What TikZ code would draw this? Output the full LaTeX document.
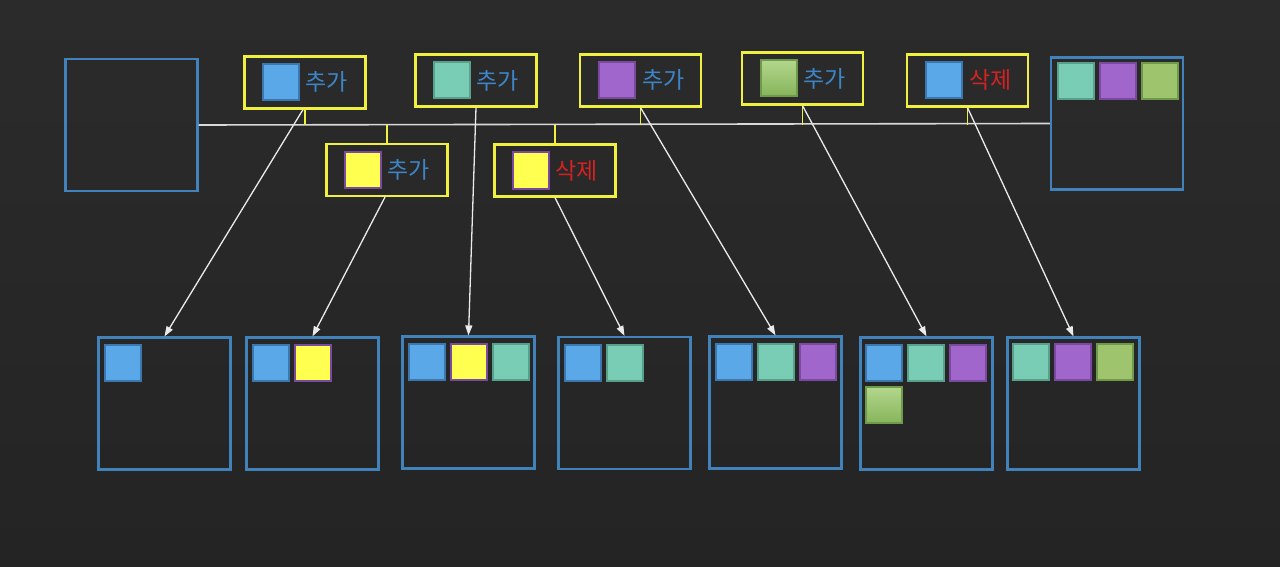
\documentclass[tikz,border=0pt]{standalone}
\usepackage{fontspec}
\newfontfamily\kr{Noto Sans CJK KR}
\usetikzlibrary{positioning,arrows.meta}

\definecolor{bgtop}{HTML}{2B2B2B}
\definecolor{bgbot}{HTML}{242424}
\definecolor{frame}{HTML}{4282BA}
\definecolor{tagline}{HTML}{F0F040}
\definecolor{blueA}{HTML}{5AA8E8}
\definecolor{blueB}{HTML}{3C78B0}
\definecolor{tealA}{HTML}{78CDB4}
\definecolor{tealB}{HTML}{58A08C}
\definecolor{purpA}{HTML}{A066CC}
\definecolor{purpB}{HTML}{7A4AA0}
\definecolor{grnA}{HTML}{9EC46E}
\definecolor{grnT}{HTML}{B2D68C}
\definecolor{grnB}{HTML}{86B45A}
\definecolor{grnE}{HTML}{6E9A4A}
\definecolor{yelA}{HTML}{FFFF50}
\definecolor{addtxt}{HTML}{3D85C6}
\definecolor{deltxt}{HTML}{D42222}

\tikzset{
  sq/.style={minimum size=36pt,inner sep=0pt,line width=2pt},
  sqblue/.style={sq,draw=blueB,fill=blueA},
  sqteal/.style={sq,draw=tealB,fill=tealA},
  sqpurp/.style={sq,draw=purpB,fill=purpA},
  sqgrn/.style={sq,draw=grnE,top color=grnT,bottom color=grnB},
  sqgrnflat/.style={sq,draw=grnE,fill=grnA},
  sqyel/.style={sq,draw=purpB,fill=yelA},
  state/.style={draw=frame,line width=2.2pt,minimum size=132pt,inner sep=0pt},
  tag/.style={draw=tagline,line width=2.2pt,minimum width=121pt,minimum height=52pt,inner sep=0pt},
  addword/.style={font=\kr\fontsize{23}{26}\selectfont,text=addtxt,inner sep=0pt},
  delword/.style={font=\kr\fontsize{23}{26}\selectfont,text=deltxt,inner sep=0pt},
  tick/.style={draw=tagline,line width=1.6pt},
  flow/.style={draw=white!92!black,line width=1.3pt,-{Triangle[length=10pt,width=7pt]}}
}

\begin{document}
\begin{tikzpicture}[x=1pt,y=-1pt]
% background
\useasboundingbox (0,0) rectangle (1280,567);
\fill[top color=bgtop,bottom color=bgbot] (0,0) rectangle (1280,567);

% start and final states
\node[state] (start) at (131.5,125) {};
\node[state] (final) at (1117,123.5) {};
\node[sqteal,below right=6pt and 7pt of final.north west] (f1) {};
\node[sqpurp,right=4pt of f1] (f2) {};
\node[sqgrnflat,right=4pt of f2] (f3) {};

% time line
\draw[white!85!black,line width=1.6pt] (start.east) -- (final.west);
\coordinate (ln) at (start.east);

% operations, top row
\node[tag] (op1) at (305,82.5) {};
\node[sqblue] (op1s) at (280.5,82) {};
\node[addword,right=6pt of op1s] {추가};

\node[tag] (op2) at (476,80.5) {};
\node[sqteal] (op2s) at (451.5,80.5) {};
\node[addword,right=6pt of op2s] {추가};

\node[tag] (op3) at (640.5,80.5) {};
\node[sqpurp] (op3s) at (617,80) {};
\node[addword,right=6pt of op3s] {추가};

\node[tag] (op4) at (802.5,78.5) {};
\node[sqgrn] (op4s) at (778.5,78.5) {};
\node[addword,right=6pt of op4s] {추가};

\node[tag] (op5) at (967.5,80.5) {};
\node[sqblue] (op5s) at (944,80) {};
\node[delword,right=6pt of op5s] {삭제};

% operations, second row
\node[tag] (op6) at (387,170) {};
\node[sqyel] (op6s) at (362.5,170) {};
\node[addword,right=6pt of op6s] {추가};

\node[tag] (op7) at (555,170.5) {};
\node[sqyel] (op7s) at (530.5,170.5) {};
\node[delword,right=6pt of op7s] {삭제};

% ticks onto the time line
\foreach \o in {op1,op3,op4,op5}
  \draw[tick] (\o.south) -- (\o.south |- ln);
\foreach \o in {op6,op7}
  \draw[tick] (\o.north) -- (\o.north |- ln);

% resulting states
\node[state] (s1) at (164.5,403.5) {};
\node[state] (s2) at (312.5,403.5) {};
\node[state] (s3) at (468.5,402.5) {};
\node[state] (s4) at (624.5,403) {};
\node[state] (s5) at (775.5,402.5) {};
\node[state] (s6) at (926.5,403.5) {};
\node[state] (s7) at (1073.5,403.5) {};

\node[sqblue,below right=8pt and 7pt of s1.north west] (s1a) {};

\node[sqblue,below right=8pt and 7pt of s2.north west] (s2a) {};
\node[sqyel,right=4pt of s2a] (s2b) {};

\node[sqblue,below right=8pt and 7pt of s3.north west] (s3a) {};
\node[sqyel,right=4pt of s3a] (s3b) {};
\node[sqteal,right=4pt of s3b] (s3c) {};

\node[sqblue,below right=8pt and 7pt of s4.north west] (s4a) {};
\node[sqteal,right=4pt of s4a] (s4b) {};

\node[sqblue,below right=8pt and 7pt of s5.north west] (s5a) {};
\node[sqteal,right=4pt of s5a] (s5b) {};
\node[sqpurp,right=4pt of s5b] (s5c) {};

\node[sqblue,below right=8pt and 6pt of s6.north west] (s6a) {};
\node[sqteal,right=4pt of s6a] (s6b) {};
\node[sqpurp,right=4pt of s6b] (s6c) {};
\node[sqgrn,below=4pt of s6a] (s6d) {};

\node[sqteal,below right=7pt and 6pt of s7.north west] (s7a) {};
\node[sqpurp,right=4pt of s7a] (s7b) {};
\node[sqgrnflat,right=4pt of s7b] (s7c) {};

% operation -> state
\draw[flow] ([xshift=-2pt]op1.south) -- (s1.north);
\draw[flow] ([xshift=-2pt]op6.south) -- (s2.north);
\draw[flow] (op2.south) -- (s3.north);
\draw[flow] (op7.south) -- (s4.north);
\draw[flow] (op3.south) -- (s5.north);
\draw[flow] (op4.south) -- (s6.north);
\draw[flow] (op5.south) -- (s7.north);
\end{tikzpicture}
\end{document}
